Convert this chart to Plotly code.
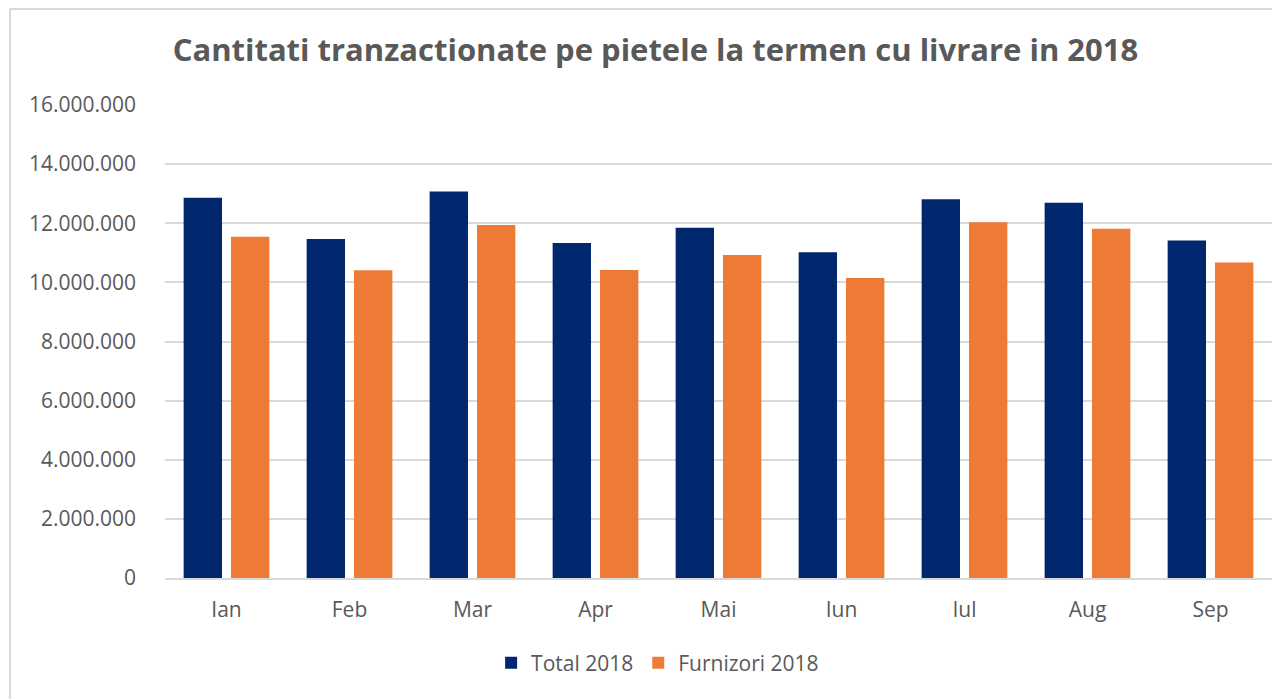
import plotly.graph_objects as go

# Monthly traded quantities on forward markets, 2018
months = ["Ian", "Feb", "Mar", "Apr", "Mai", "Iun", "Iul", "Aug", "Sep"]
total_2018 = [12860000, 11470000, 13070000, 11330000, 11850000, 11020000, 12810000, 12690000, 11420000]
furnizori_2018 = [11540000, 10410000, 11940000, 10420000, 10930000, 10150000, 12030000, 11810000, 10670000]
y_ticks = [0, 2000000, 4000000, 6000000, 8000000, 10000000, 12000000, 14000000, 16000000]

COLORS = {
    'TOTAL': '#01276f',
    'FURN': '#ee7b35',
    'TEXT': '#595959',
    'GRID': '#d9d9d9',
}

fig = go.Figure()
fig.add_trace(go.Bar(x=months, y=total_2018, name="Total 2018",
                     marker=dict(color=COLORS['TOTAL'], line=dict(width=0))))
fig.add_trace(go.Bar(x=months, y=furnizori_2018, name="Furnizori 2018",
                     marker=dict(color=COLORS['FURN'], line=dict(width=0))))

# page has an 8px body margin, so the figure is sized to fit inside it
fig.update_layout(
    title=dict(
        text="<b>Cantitati tranzactionate pe pietele la termen cu livrare in 2018</b>",
        x=0.509, xanchor='center', y=0.939, yanchor='middle',
        font=dict(family="Open Sans, sans-serif", size=31, color=COLORS['TEXT'])
    ),
    width=1272, height=691,
    margin=dict(l=157, r=8, t=97, b=121),
    barmode='group',
    bargap=0.23,
    bargroupgap=0.19,
    separators=",.",
    font=dict(family="Open Sans, sans-serif", size=21, color=COLORS['TEXT']),
    plot_bgcolor="white",
    paper_bgcolor="white",
    legend=dict(orientation="h", x=0.445, xanchor='center', y=-0.18, yanchor='middle',
                font=dict(size=21, color=COLORS['TEXT']), itemwidth=30),
    showlegend=True,
    shapes=[
        # chart border (left and top edges)
        dict(type="line", xref="paper", yref="paper", x0=-0.14, x1=-0.14, y0=-0.3, y1=1.203,
             line=dict(color=COLORS['GRID'], width=2)),
        dict(type="line", xref="paper", yref="paper", x0=-0.14, x1=1.01, y0=1.203, y1=1.203,
             line=dict(color=COLORS['GRID'], width=2)),
    ],
)

fig.update_xaxes(showgrid=False, showline=True, linecolor=COLORS['GRID'], linewidth=2,
                 ticks="", ticklabelstandoff=12, tickfont=dict(size=21))
fig.update_yaxes(range=[0, 16000000], tickvals=y_ticks, tickformat=",d",
                 showgrid=True, gridcolor=COLORS['GRID'], gridwidth=2,
                 zeroline=False, showline=False, ticks="", ticklabelstandoff=28,
                 tickfont=dict(size=21))

fig.write_html("out.html")
